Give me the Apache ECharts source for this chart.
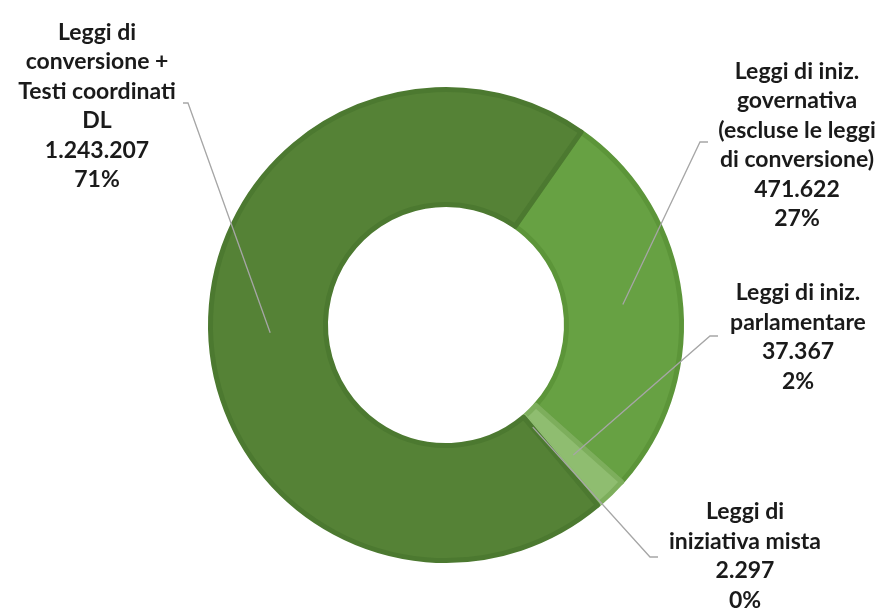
<!DOCTYPE html>
<html><head><meta charset="utf-8">
<script src="https://cdn.jsdelivr.net/npm/echarts@6/dist/echarts.min.js"></script>
<style>html,body{margin:0;padding:0;background:#fff}#c{width:884px;height:611px}</style>
</head><body><div id="c"></div>
<script>
// ---- data ----
const categories = [
  'Leggi di iniz. governativa (escluse le leggi di conversione)',
  'Leggi di iniz. parlamentare',
  'Leggi di iniziativa mista',
  'Leggi di conversione + Testi coordinati DL'
];
const labelTexts = [
  'Leggi di iniz.\ngovernativa\n(escluse le leggi\ndi conversione)',
  'Leggi di iniz.\nparlamentare',
  'Leggi di\niniziativa mista',
  'Leggi di\nconversione +\nTesti coordinati\nDL'
];
const values = [471622, 37367, 2297, 1243207];

// ---- styling / layout ----
const fillColors = ['#67a143', '#8fbd70', '#a9d18e', '#558236'];
const edgeColors = ['#5c9539', '#7dae5c', '#93c076', '#4c7930'];
const CX = 446, CY = 325;
const labelCenters = [[797, 145], [798, 337], [745, 556], [97, 106]];
const elbows = [[[700, 142], [708, 142]], [[710, 336], [718, 336]], [[650, 557], [658, 557]], [[188, 103], [183, 103]]];
const anchorRadii = [178, 182, 134, 176];

function fmt(v) { return String(v).replace(/\B(?=(\d{3})+(?!\d))/g, '.'); }

const common = {
  type: 'pie',
  center: [CX, CY],
  radius: [120.5, 235.5],
  startAngle: 55,
  clockwise: true,
  avoidLabelOverlap: false,
  silent: true,
  emphasis: { disabled: true }
};

const chart = echarts.init(document.getElementById('c'));
chart.setOption({
  animation: false,
  series: [
    Object.assign({}, common, {
      z: 2,
      data: categories.map((n, i) => ({
        name: n, value: values[i],
        itemStyle: { color: fillColors[i], borderColor: edgeColors[i], borderWidth: 5 }
      })),
      label: { show: false },
      labelLine: { show: false }
    }),
    Object.assign({}, common, {
      z: 3,
      data: categories.map((n, i) => ({
        name: n, value: values[i],
        itemStyle: { color: 'rgba(0,0,0,0)', borderWidth: 0 }
      })),
      label: {
        show: true,
        formatter: p => labelTexts[p.dataIndex] + '\n' + fmt(p.value) + '\n' + Math.round(p.percent) + '%',
        fontFamily: 'Lato',
        fontWeight: 'bold',
        fontSize: 23,
        lineHeight: 29.5,
        color: '#1a1a1a',
        align: 'center'
      },
      labelLine: { show: true, lineStyle: { color: '#a6a6a6', width: 1.3 } },
      labelLayout: function (p) {
        const i = p.dataIndex;
        const p0 = p.labelLinePoints[0];
        const a = Math.atan2(p0[1] - CY, p0[0] - CX);
        const r = anchorRadii[i];
        const ax = CX + r * Math.cos(a), ay = CY + r * Math.sin(a);
        return {
          x: labelCenters[i][0], y: labelCenters[i][1],
          align: 'center', verticalAlign: 'middle',
          labelLinePoints: [[ax, ay], elbows[i][0], elbows[i][1]]
        };
      }
    })
  ]
});
</script></body></html>
